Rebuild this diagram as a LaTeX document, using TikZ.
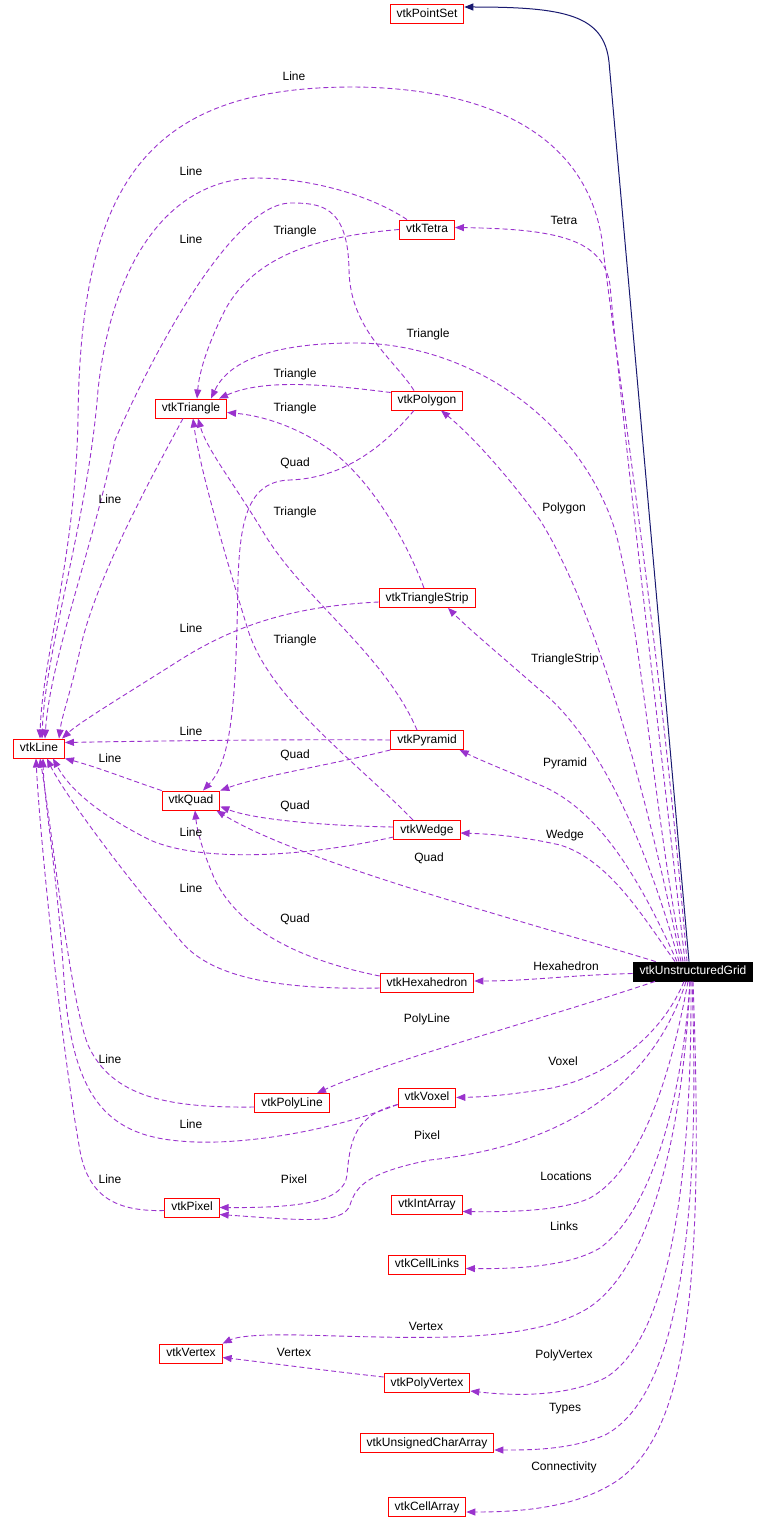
\documentclass[tikz,border=0pt]{standalone}
\usepackage{fontspec}
\setmainfont{Liberation Sans}
\usetikzlibrary{arrows.meta}
\definecolor{dxred}{HTML}{FF0000}
\definecolor{dxuse}{HTML}{9A32CD}
\definecolor{dxbase}{HTML}{191970}
\tikzset{
  cls/.style={draw=dxred, line width=0.9pt, fill=white, minimum height=19pt, inner xsep=6.5pt, inner ysep=0pt, text height=8.8pt, text depth=2.4pt, font=\fontsize{12}{14}\selectfont},
  self/.style={cls, draw=black, fill=black, text=white},
  uses/.style={draw=dxuse, line width=0.9pt, dash pattern=on 5pt off 3pt, -{Triangle[length=9pt,width=7pt]}},
  isa/.style={draw=dxbase, line width=1pt, -{Triangle[length=9pt,width=7pt]}},
  lbl/.style={inner sep=0pt, font=\fontsize{12}{14}\selectfont}
}

\begin{document}
\begin{tikzpicture}[x=1pt, y=-1pt]
  \useasboundingbox (0,0) rectangle (768,1533);

  \node[cls] (pointset) at (427,14) {vtkPointSet};
  \node[cls] (tetra) at (427,229.5) {vtkTetra};
  \node[cls] (triangle) at (191,408.5) {vtkTriangle};
  \node[cls] (polygon) at (427,400.5) {vtkPolygon};
  \node[cls] (strip) at (427,598) {vtkTriangleStrip};
  \node[cls] (vline) at (39,748.5) {vtkLine};
  \node[cls] (pyramid) at (427,740) {vtkPyramid};
  \node[cls] (quad) at (191,800.5) {vtkQuad};
  \node[cls] (wedge) at (427,830) {vtkWedge};
  \node[cls] (hexa) at (427,983) {vtkHexahedron};
  \node[self] (grid) at (693,971.5) {vtkUnstructuredGrid};
  \node[cls] (polyline) at (292,1103) {vtkPolyLine};
  \node[cls] (voxel) at (427,1097.5) {vtkVoxel};
  \node[cls] (pixel) at (192,1207.5) {vtkPixel};
  \node[cls] (intarray) at (427,1204.5) {vtkIntArray};
  \node[cls] (celllinks) at (427,1264.5) {vtkCellLinks};
  \node[cls] (vertex) at (191,1353.5) {vtkVertex};
  \node[cls] (polyvertex) at (427,1383) {vtkPolyVertex};
  \node[cls] (ucarray) at (427,1443) {vtkUnsignedCharArray};
  \node[cls] (cellarray) at (427,1507) {vtkCellArray};

  % base class
  \draw[isa] ([xshift=-4pt]grid.north) -- (609,62) .. controls (604,15) and (565,7) .. ([yshift=7pt]pointset.east);

  % members of vtkUnstructuredGrid
  \draw[uses] ([xshift=-8pt]grid.north) .. controls (655,700) and (618,380) .. (610,285) .. controls (603,240) and (560,229) .. ([yshift=2pt]tetra.east);
  \draw[uses] ([xshift=-6pt]grid.north) .. controls (660,640) and (612,330) .. (602,240) .. controls (585,130) and (480,87) .. (350,87) .. controls (150,88) and (80,180) .. (78,420) .. controls (75,560) and (42,660) .. ([xshift=1pt]vline.north);
  \draw[uses] ([xshift=-10pt]grid.north) .. controls (655,820) and (640,620) .. (615,530) .. controls (580,420) and (470,343) .. (355,343) .. controls (270,343) and (228,362) .. ([xshift=20pt]triangle.north);
  \draw[uses] ([xshift=-12pt]grid.north) .. controls (640,760) and (590,600) .. (540,520) .. controls (500,465) and (465,430) .. ([xshift=14pt]polygon.south);
  \draw[uses] ([xshift=-14pt]grid.north) .. controls (640,820) and (590,730) .. (540,690) .. controls (500,655) and (470,630) .. ([xshift=21pt]strip.south);
  \draw[uses] ([xshift=-16pt]grid.north) .. controls (640,880) and (600,810) .. (540,785) .. controls (500,768) and (480,760) .. ([xshift=-4pt]pyramid.south east);
  \draw[uses] ([xshift=-18pt]grid.north) .. controls (645,920) and (610,860) .. (560,845) .. controls (520,836) and (490,834) .. ([yshift=-3pt]wedge.east);
  \draw[uses] ([xshift=23pt]grid.north west) .. controls (520,920) and (300,862) .. ([xshift=-4pt]quad.south east);
  \draw[uses] ([yshift=-2pt]grid.west) .. controls (570,975) and (530,981) .. ([yshift=2pt]hexa.east);
  \draw[uses] ([xshift=-38pt]grid.south) .. controls (540,1020) and (390,1060) .. ([xshift=25pt]polyline.north);
  \draw[uses] ([xshift=-9pt]grid.south) .. controls (660,1040) and (600,1082) .. (540,1090) .. controls (500,1096) and (480,1097) .. (voxel.east);
  \draw[uses] ([xshift=-7pt]grid.south) .. controls (655,1080) and (570,1145) .. (430,1160) .. controls (370,1172) and (356,1185) .. (350,1205) .. controls (343,1225) and (300,1220) .. ([yshift=-7pt]pixel.east);
  \draw[uses] ([xshift=-5pt]grid.south) .. controls (670,1080) and (640,1170) .. (590,1198) .. controls (560,1212) and (500,1212) .. ([yshift=-7pt]intarray.east);
  \draw[uses] ([xshift=-3pt]grid.south) .. controls (682,1100) and (652,1210) .. (600,1248) .. controls (570,1266) and (520,1269) .. ([yshift=-4pt]celllinks.east);
  \draw[uses] ([xshift=-3pt]grid.south) .. controls (682,1150) and (645,1275) .. (585,1310) .. controls (525,1344) and (420,1338) .. (300,1335) .. controls (255,1334) and (236,1337) .. (vertex.north east);
  \draw[uses] ([xshift=-2pt]grid.south) .. controls (692,1200) and (665,1342) .. (605,1378) .. controls (565,1397) and (515,1396) .. ([yshift=-8pt]polyvertex.east);
  \draw[uses] ([xshift=-1pt]grid.south) .. controls (702,1250) and (672,1400) .. (605,1435) .. controls (570,1450) and (530,1450) .. ([yshift=-7pt]ucarray.east);
  \draw[uses] (grid.south) .. controls (705,1300) and (685,1440) .. (612,1484) .. controls (572,1508) and (520,1512) .. ([yshift=-5pt]cellarray.east);

  % members of the cells
  \draw[uses] ([xshift=-20pt]tetra.north) .. controls (370,195) and (310,178) .. (255,178) .. controls (170,180) and (112,260) .. (98,390) .. controls (88,520) and (45,650) .. ([xshift=3pt]vline.north);
  \draw[uses] (tetra.west) .. controls (320,236) and (255,255) .. (225,310) .. controls (205,350) and (199,375) .. ([xshift=6pt]triangle.north);
  \draw[uses] ([xshift=-13pt]polygon.north) .. controls (395,360) and (350,330) .. (349,270) .. controls (348,205) and (320,203) .. (290,203) .. controls (230,205) and (150,360) .. (115,440) .. controls (95,540) and (50,660) .. ([xshift=6pt]vline.north);
  \draw[uses] ([yshift=8pt]polygon.west) .. controls (330,385) and (265,378) .. ([xshift=28pt]triangle.north);
  \draw[uses] ([xshift=-13pt]polygon.south) .. controls (385,445) and (345,478) .. (290,480) .. controls (248,481) and (240,520) .. (238,580) .. controls (236,700) and (232,760) .. ([xshift=12pt]quad.north);
  \draw[uses] ([xshift=-8pt]triangle.south) .. controls (150,480) and (95,580) .. (80,650) .. controls (70,695) and (62,715) .. ([xshift=20pt]vline.north);
  \draw[uses] ([xshift=-3pt]strip.north) .. controls (408,545) and (375,485) .. (333,452) .. controls (300,428) and (265,416) .. ([yshift=-4pt]triangle.east);
  \draw[uses] ([yshift=-4pt]strip.west) .. controls (300,606) and (240,622) .. (180,660) .. controls (120,698) and (80,722) .. ([xshift=23pt]vline.north);
  \draw[uses] ([xshift=-10pt]pyramid.north) .. controls (385,655) and (305,600) .. (265,535) .. controls (235,485) and (207,450) .. ([xshift=7pt]triangle.south);
  \draw[uses] (pyramid.west) .. controls (300,739) and (150,741) .. ([yshift=6pt]vline.east);
  \draw[uses] (pyramid.south west) .. controls (330,765) and (260,776) .. (quad.north east);
  \draw[uses] (quad.north west) .. controls (130,780) and (100,768) .. (vline.south east);
  \draw[uses] ([xshift=-14pt]wedge.north) .. controls (360,765) and (270,700) .. (248,630) .. controls (228,565) and (200,470) .. ([xshift=2pt]triangle.south);
  \draw[uses] ([yshift=3pt]wedge.west) .. controls (330,826) and (255,820) .. ([yshift=-6pt]quad.east);
  \draw[uses] ([yshift=-7pt]wedge.west) .. controls (300,858) and (200,862) .. (150,840) .. controls (100,815) and (70,790) .. ([xshift=14pt]vline.south);
  \draw[uses] ([yshift=7pt]hexa.west) .. controls (300,960) and (240,930) .. (215,880) .. controls (202,850) and (197,830) .. ([xshift=4pt]quad.south);
  \draw[uses] ([yshift=-5pt]hexa.west) .. controls (280,990) and (210,978) .. (180,940) .. controls (120,870) and (62,790) .. ([xshift=8pt]vline.south);
  \draw[uses] ([yshift=-4pt]polyline.west) .. controls (170,1108) and (112,1098) .. (88,1045) .. controls (70,1000) and (52,830) .. ([xshift=1pt]vline.south);
  \draw[uses] ([yshift=-7pt]voxel.west) .. controls (320,1135) and (230,1146) .. (180,1141) .. controls (105,1135) and (72,1095) .. (64,980) .. controls (58,880) and (44,800) .. ([xshift=4pt]vline.south);
  \draw[uses] ([yshift=-7pt]voxel.west) .. controls (355,1115) and (350,1140) .. (347,1175) .. controls (344,1202) and (300,1208) .. (pixel.east);
  \draw[uses] ([yshift=-3pt]pixel.west) .. controls (110,1212) and (86,1192) .. (79,1145) .. controls (62,1050) and (40,840) .. ([xshift=-3pt]vline.south);
  \draw[uses] ([yshift=6pt]polyvertex.west) .. controls (320,1370) and (262,1362) .. ([yshift=-4pt]vertex.east);

  \node[lbl] (l-line-grid) at (294,76) {Line};
  \node[lbl] (l-line-tetra) at (191,171) {Line};
  \node[lbl] (l-tetra) at (564,220) {Tetra};
  \node[lbl] (l-tri-tetra) at (295,231) {Triangle};
  \node[lbl] (l-line-poly) at (191,239) {Line};
  \node[lbl] (l-tri-grid) at (428,334) {Triangle};
  \node[lbl] (l-tri-poly) at (295,374) {Triangle};
  \node[lbl] (l-tri-strip) at (295,408) {Triangle};
  \node[lbl] (l-quad-poly) at (295,463) {Quad};
  \node[lbl] (l-line-tri) at (110,499) {Line};
  \node[lbl] (l-polygon) at (564,508) {Polygon};
  \node[lbl] (l-tri-pyr) at (295,512) {Triangle};
  \node[lbl] (l-line-strip) at (191,628) {Line};
  \node[lbl] (l-tri-wedge) at (295,640) {Triangle};
  \node[lbl] (l-strip) at (565,659) {TriangleStrip};
  \node[lbl] (l-line-pyr) at (191,731) {Line};
  \node[lbl] (l-quad-pyr) at (295,755) {Quad};
  \node[lbl] (l-line-quad) at (110,758) {Line};
  \node[lbl] (l-pyramid) at (565,763) {Pyramid};
  \node[lbl] (l-quad-wedge) at (295,806) {Quad};
  \node[lbl] (l-line-wedge) at (191,832) {Line};
  \node[lbl] (l-wedge) at (565,835) {Wedge};
  \node[lbl] (l-quad-grid) at (429,858) {Quad};
  \node[lbl] (l-line-hexa) at (191,888) {Line};
  \node[lbl] (l-quad-hexa) at (295,919) {Quad};
  \node[lbl] (l-hexa) at (566,966) {Hexahedron};
  \node[lbl] (l-polyline) at (427,1019) {PolyLine};
  \node[lbl] (l-line-pline) at (110,1059) {Line};
  \node[lbl] (l-voxel) at (563,1061) {Voxel};
  \node[lbl] (l-line-voxel) at (191,1124) {Line};
  \node[lbl] (l-pixel-grid) at (427,1135) {Pixel};
  \node[lbl] (l-locations) at (566,1176) {Locations};
  \node[lbl] (l-line-pixel) at (110,1179) {Line};
  \node[lbl] (l-pixel-voxel) at (294,1179) {Pixel};
  \node[lbl] (l-links) at (564,1226) {Links};
  \node[lbl] (l-vertex-grid) at (426,1326) {Vertex};
  \node[lbl] (l-vertex-pv) at (294,1352) {Vertex};
  \node[lbl] (l-polyvertex) at (564,1355) {PolyVertex};
  \node[lbl] (l-types) at (565,1409) {Types};
  \node[lbl] (l-connect) at (564,1467) {Connectivity};
\end{tikzpicture}
\end{document}
